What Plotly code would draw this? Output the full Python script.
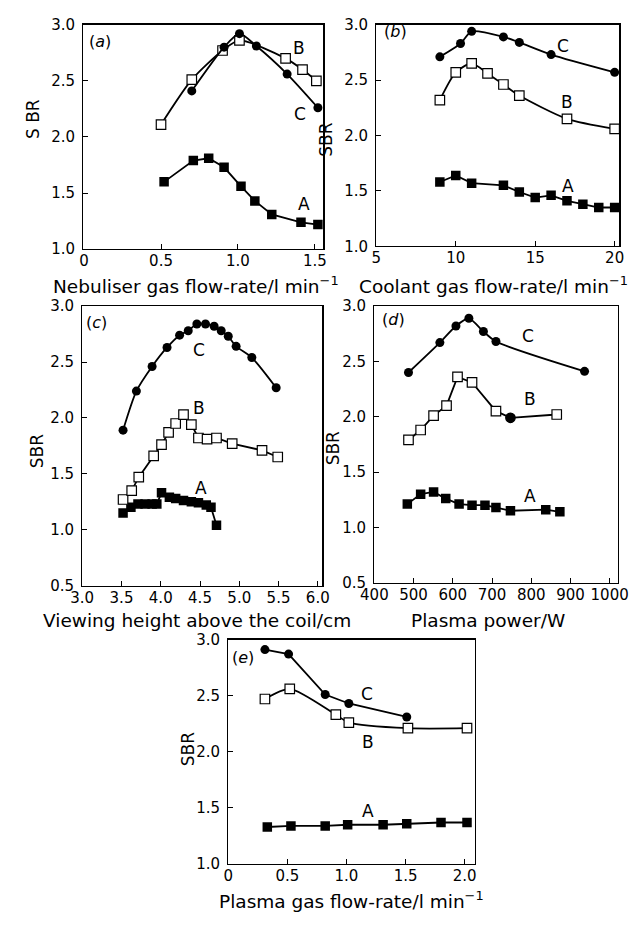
import plotly.graph_objects as go

# ---------------- data ----------------
# panel (a) Nebuliser gas flow-rate
a_A_x = [0.52, 0.71, 0.81, 0.91, 1.02, 1.11, 1.22, 1.41, 1.52]
a_A_y = [1.60, 1.79, 1.81, 1.73, 1.56, 1.43, 1.31, 1.24, 1.22]
a_B_x = [0.50, 0.70, 0.90, 1.01, 1.31, 1.42, 1.51]
a_B_y = [2.11, 2.51, 2.77, 2.86, 2.70, 2.60, 2.50]
a_C_x = [0.70, 0.91, 1.01, 1.12, 1.32, 1.52]
a_C_y = [2.41, 2.80, 2.92, 2.81, 2.56, 2.26]

# panel (b) Coolant gas flow-rate
b_A_x = [9, 10, 11, 13, 14, 15, 16, 17, 18, 19, 20]
b_A_y = [1.58, 1.64, 1.57, 1.55, 1.49, 1.44, 1.46, 1.41, 1.38, 1.35, 1.35]
b_B_x = [9, 10, 11, 12, 13, 14, 17, 20]
b_B_y = [2.32, 2.57, 2.65, 2.56, 2.46, 2.36, 2.15, 2.06]
b_C_x = [9, 10.3, 11, 13, 14, 16, 20]
b_C_y = [2.71, 2.83, 2.94, 2.89, 2.84, 2.73, 2.57]

# panel (c) Viewing height
c_A_x = [3.52, 3.62, 3.71, 3.80, 3.89, 3.95, 4.01, 4.11, 4.19, 4.29, 4.39, 4.48, 4.58, 4.64, 4.71]
c_A_y = [1.15, 1.20, 1.23, 1.23, 1.23, 1.23, 1.33, 1.29, 1.28, 1.26, 1.25, 1.24, 1.22, 1.20, 1.04]
c_B_x = [3.52, 3.63, 3.72, 3.91, 4.01, 4.10, 4.19, 4.29, 4.39, 4.48, 4.59, 4.71, 4.91, 5.29, 5.49]
c_B_y = [1.27, 1.35, 1.47, 1.66, 1.76, 1.87, 1.95, 2.03, 1.94, 1.82, 1.81, 1.82, 1.77, 1.71, 1.65]
c_C_x = [3.52, 3.69, 3.89, 4.08, 4.24, 4.35, 4.46, 4.57, 4.68, 4.77, 4.86, 4.96, 5.16, 5.47]
c_C_y = [1.89, 2.24, 2.46, 2.63, 2.74, 2.78, 2.84, 2.84, 2.82, 2.78, 2.73, 2.64, 2.54, 2.27]

# panel (d) Plasma power
d_A_x = [484, 518, 551, 582, 616, 649, 682, 710, 747, 837, 873]
d_A_y = [1.21, 1.30, 1.32, 1.26, 1.21, 1.20, 1.20, 1.18, 1.15, 1.16, 1.14]
d_B_x = [487, 518, 551, 584, 612, 649, 710, 747, 865]
d_B_y = [1.79, 1.88, 2.01, 2.10, 2.36, 2.31, 2.05, 1.99, 2.02]
d_C_x = [487, 567, 608, 641, 678, 710, 936]
d_C_y = [2.40, 2.67, 2.82, 2.89, 2.77, 2.68, 2.41]

# panel (e) Plasma gas flow-rate
e_A_x = [0.33, 0.53, 0.82, 1.01, 1.31, 1.51, 1.80, 2.02]
e_A_y = [1.33, 1.34, 1.34, 1.35, 1.35, 1.36, 1.37, 1.37]
e_B_x = [0.31, 0.52, 0.91, 1.02, 1.52, 2.02]
e_B_y = [2.47, 2.56, 2.33, 2.26, 2.21, 2.21]
e_C_x = [0.31, 0.51, 0.82, 1.02, 1.51]
e_C_y = [2.91, 2.87, 2.51, 2.43, 2.31]

# tick labels
a_xticks = [0, 0.5, 1.0, 1.5]
a_xtext = ["0", "0.5", "1.0", "1.5"]
b_xticks = [5, 10, 15, 20]
b_xtext = ["5", "10", "15", "20"]
c_xticks = [3.0, 3.5, 4.0, 4.5, 5.0, 5.5, 6.0]
c_xtext = ["3.0", "3.5", "4.0", "4.5", "5.0", "5.5", "6.0"]
d_xticks = [400, 500, 600, 700, 800, 900, 1000]
d_xtext = ["400", "500", "600", "700", "800", "900", "1000"]
e_xticks = [0, 0.5, 1.0, 1.5, 2.0]
e_xtext = ["0", "0.5", "1.0", "1.5", "2.0"]
y_ticks_1 = [1.0, 1.5, 2.0, 2.5, 3.0]
y_ticks_05 = [0.5, 1.0, 1.5, 2.0, 2.5, 3.0]

# ---------------- figure ----------------
W, H = 641, 926
FONT = "DejaVu Sans"
fig = go.Figure()


def px_x(p):
    return p / W


def px_y(p):
    return 1 - p / H


def add_series(ax, x, y, kind, shape="spline", symbols=None, fills=None):
    if kind == "A":
        marker = dict(symbol="square", size=9.5, color="black", line=dict(color="black", width=0))
    elif kind == "B":
        marker = dict(symbol="square", size=9.5, color="white", line=dict(color="black", width=1.2))
    else:
        marker = dict(symbol="circle", size=9, color="black", line=dict(color="black", width=0))
    if symbols is not None:
        marker["symbol"] = symbols
        marker["color"] = fills
    fig.add_trace(go.Scatter(
        x=x, y=y, mode="lines+markers",
        line=dict(color="black", width=1.8, shape=shape, smoothing=0.7),
        marker=marker, xaxis="x" + ax, yaxis="y" + ax, showlegend=False,
        hoverinfo="skip"))


# panel a
add_series("", a_A_x, a_A_y, "A", shape="linear")
add_series("", a_B_x, a_B_y, "B")
add_series("", a_C_x, a_C_y, "C")
# panel b
add_series("2", b_A_x, b_A_y, "A", shape="linear")
add_series("2", b_B_x, b_B_y, "B")
add_series("2", b_C_x, b_C_y, "C")
# panel c
add_series("3", c_A_x, c_A_y, "A", shape="linear")
add_series("3", c_B_x, c_B_y, "B", shape="linear")
add_series("3", c_C_x, c_C_y, "C")
# panel d
add_series("4", d_A_x, d_A_y, "A", shape="linear")
d_B_symbols = ["square"] * 7 + ["circle", "square"]
d_B_fills = ["white"] * 7 + ["black", "white"]
add_series("4", d_B_x, d_B_y, "B", shape="linear", symbols=d_B_symbols, fills=d_B_fills)
add_series("4", d_C_x, d_C_y, "C")
# panel e
add_series("5", e_A_x, e_A_y, "A", shape="linear")
add_series("5", e_B_x, e_B_y, "B", shape="spline")
add_series("5", e_C_x, e_C_y, "C", shape="linear")


def axis_common():
    return dict(showline=True, linecolor="black", linewidth=1.2, mirror=True,
                ticks="inside", ticklen=5, tickwidth=1, tickcolor="black",
                showgrid=False, zeroline=False,
                tickfont=dict(family=FONT, size=15, color="black"))


# panel geometry in pixels: (left, right, top, bottom)
geo = {
    "": (72, 322, 16, 245),
    "2": (377, 630, 16, 242),
    "3": (71, 321, 303, 588),
    "4": (375, 628, 303, 585),
    "5": (223, 480, 643, 872),
}
xranges = {
    "": [-0.006, 1.556],
    "2": [5, 20.3],
    "3": [3.0, 6.06],
    "4": [400, 1020],
    "5": [0, 2.09],
}
yranges = {"": [1, 3], "2": [1, 3], "3": [0.5, 3], "4": [0.5, 3], "5": [1, 3]}
xt = {"": (a_xticks, a_xtext), "2": (b_xticks, b_xtext), "3": (c_xticks, c_xtext),
      "4": (d_xticks, d_xtext), "5": (e_xticks, e_xtext)}
yt = {"": y_ticks_1, "2": y_ticks_1, "3": y_ticks_05, "4": y_ticks_05, "5": y_ticks_1}

layout = {}
for k, (l, r, t, b) in geo.items():
    xa = axis_common()
    xa.update(domain=[px_x(l), px_x(r)], range=xranges[k], anchor="y" + k,
              tickvals=xt[k][0], ticktext=xt[k][1], ticklabelstandoff=-2)
    ya = axis_common()
    ya.update(domain=[px_y(b), px_y(t)], range=yranges[k], anchor="x" + k,
              tickvals=yt[k], ticktext=["%.1f" % v for v in yt[k]], ticklabelstandoff=4)
    layout["xaxis" + k] = xa
    layout["yaxis" + k] = ya

annotations = []


def ann(text, x, y, size=17, angle=0):
    annotations.append(dict(text=text, x=px_x(x), y=px_y(y), xref="paper", yref="paper",
                            showarrow=False, textangle=angle, xanchor="center", yanchor="middle",
                            font=dict(family=FONT, size=size, color="black")))


# axis titles
ann("Nebuliser gas flow-rate/l min<sup>−1</sup>", 189, 281, 18.5)
ann("Coolant gas flow-rate/l min<sup>−1</sup>", 499, 281, 18.5)
ann("Viewing height above the coil/cm", 190, 624, 18.5)
ann("Plasma power/W", 493, 624, 18.5)
ann("Plasma gas flow-rate/l min<sup>−1</sup>", 351, 909, 18.5)
ann("S BR", 20, 112, 17, -90)
ann("SBR", 325, 133, 17, -90)
ann("SBR", 24, 451, 17, -90)
ann("SBR", 332, 448, 17, -90)
ann("SBR", 181, 755, 17, -90)

# panel labels
ann("(<i>a</i>)", 90, 33, 16)
ann("(<i>b</i>)", 397, 23, 16)
ann("(<i>c</i>)", 86, 320, 16)
ann("(<i>d</i>)", 395, 317, 16)
ann("(<i>e</i>)", 238, 661, 16)

# curve labels
for t, x, y in [("B", 297, 40), ("C", 298, 107), ("A", 302, 199),
                ("C", 571, 38), ("B", 575, 95), ("A", 577, 180),
                ("C", 193, 348), ("B", 193, 407), ("A", 195, 489),
                ("C", 535, 333), ("B", 537, 398), ("A", 537, 497),
                ("C", 367, 699), ("B", 368, 748), ("A", 368, 818)]:
    ann(t, x, y, 17)

fig.update_layout(width=W, height=H, margin=dict(l=0, r=0, t=0, b=0),
                  paper_bgcolor="white", plot_bgcolor="white", showlegend=False,
                  annotations=annotations, **layout)

fig.write_html("out.html", config={"displayModeBar": False, "staticPlot": True},
               post_script="document.body.style.margin='0px';document.body.style.overflow='hidden';")
